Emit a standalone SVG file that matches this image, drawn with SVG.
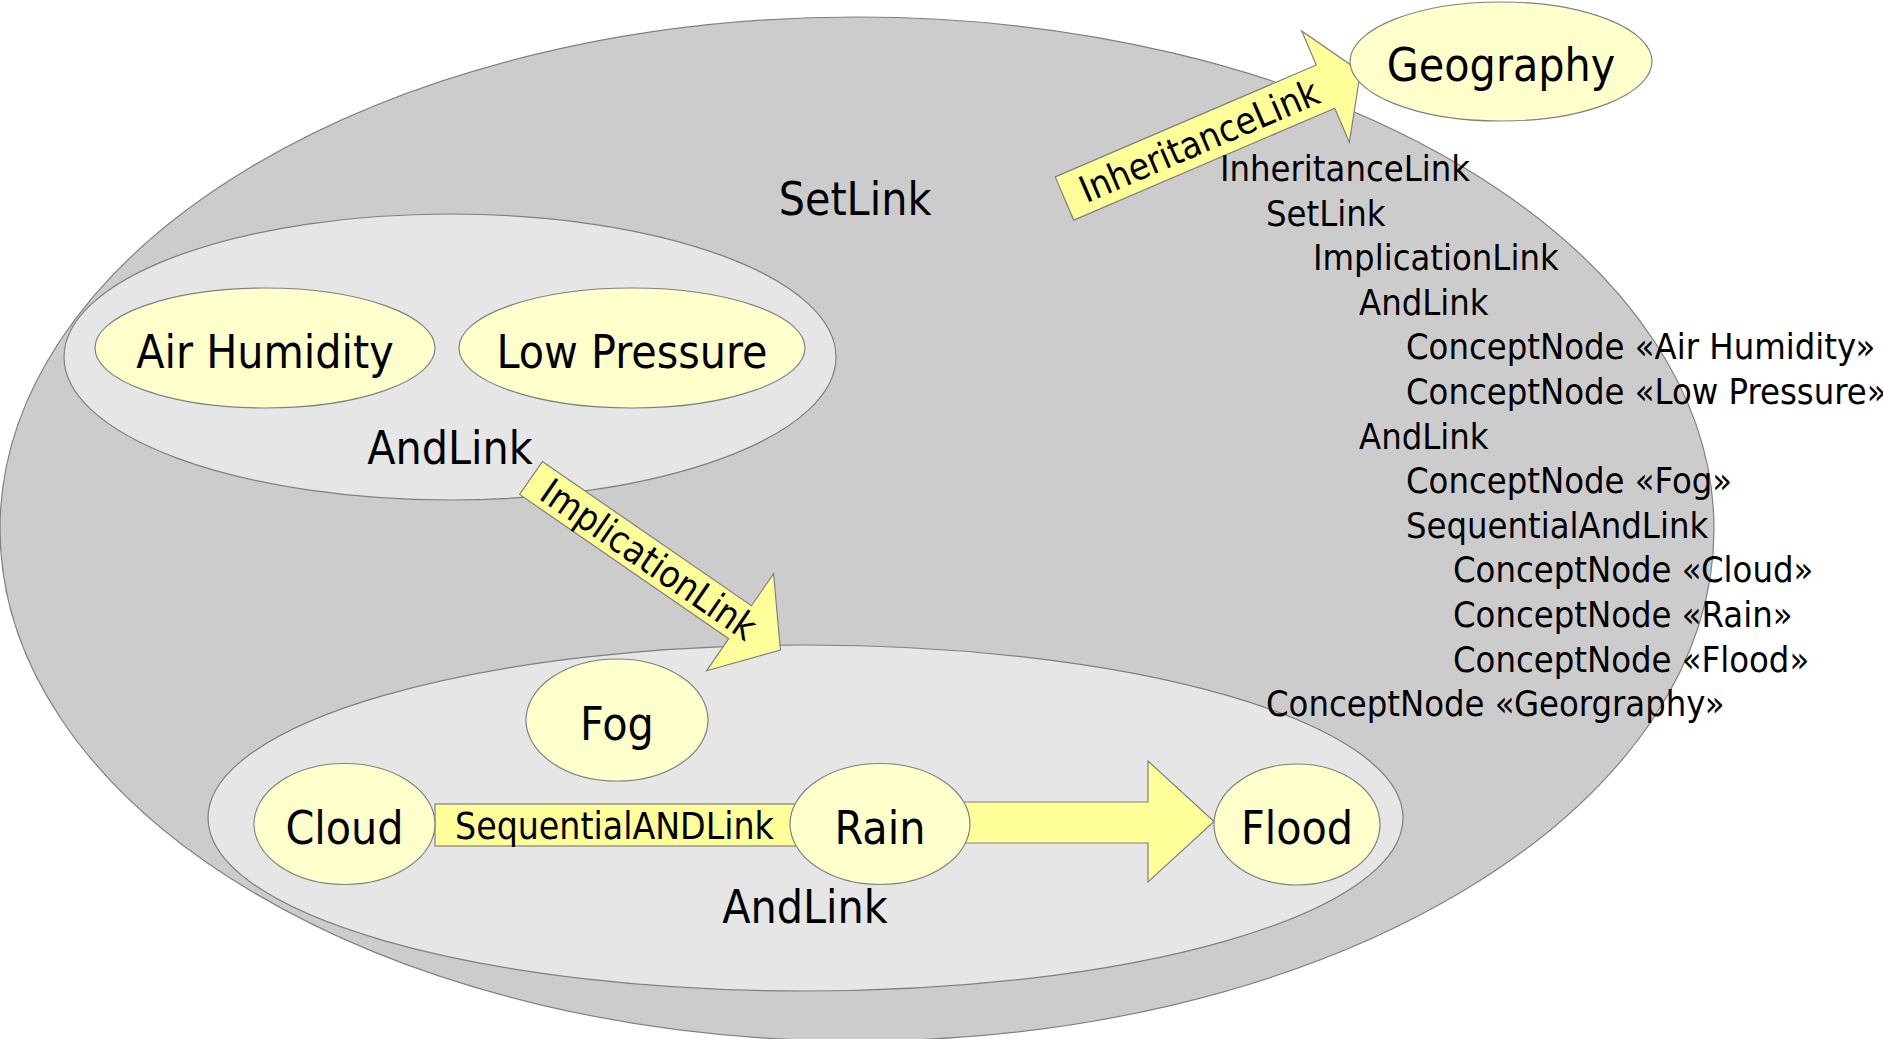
<svg xmlns="http://www.w3.org/2000/svg" width="1883" height="1039" viewBox="0 0 1883 1039">
  <style>
    text { font-family: "DejaVu Sans Condensed", "DejaVu Sans", sans-serif; font-stretch: condensed; fill: #000; }
    .set { fill: #cccccc; stroke: #808080; stroke-width: 1.2; }
    .and { fill: #e6e6e6; stroke: #808080; stroke-width: 1.2; }
    .node { fill: #ffffcc; stroke: #808080; stroke-width: 1.2; }
    .link { fill: #ffff99; stroke: #808080; stroke-width: 1.2; }
    .big { font-size: 46px; text-anchor: middle; }
    .lbl { font-size: 37px; }
    .tree { font-size: 36px; }
  </style>

  <!-- containers -->
  <g id="setlink">
    <ellipse class="set" cx="857" cy="529" rx="857" ry="512"/>
    <text class="big" x="855" y="215">SetLink</text>
  </g>
  <g id="andlink-premise">
    <ellipse class="and" cx="450" cy="357" rx="386" ry="143"/>
    <text class="big" x="450" y="464">AndLink</text>
  </g>
  <g id="andlink-conclusion">
    <ellipse class="and" cx="805.5" cy="818" rx="597.5" ry="173"/>
    <text class="big" x="805" y="923">AndLink</text>
  </g>

  <!-- connectors -->
  <g id="connectors">
    <g id="implication-link" transform="translate(531 478) rotate(34.6)">
      <polygon class="link" points="0,-20 254,-20 254,-59 303,0 254,59 254,20 0,20"/>
      <text class="lbl" x="17" y="13">ImplicationLink</text>
    </g>
    <g id="inheritance-link" transform="translate(1064.5 198.5) rotate(-23.2)">
      <polygon class="link" points="0,-23.5 284,-23.5 284,-60.5 322,0 284,60.5 284,23.5 0,23.5"/>
      <text class="lbl" x="18" y="13">InheritanceLink</text>
    </g>
    <g id="sequential-and-link">
      <rect class="link" x="435" y="804" width="400" height="42"/>
      <text class="lbl" x="455" y="839">SequentialANDLink</text>
    </g>
    <polygon id="rain-flood" class="link" points="880,802 1148,802 1148,761 1214,821.5 1148,882 1148,843 880,843"/>
  </g>

  <!-- concept nodes -->
  <g id="air-humidity">
    <ellipse class="node" cx="265" cy="348" rx="170" ry="60"/>
    <text class="big" x="265" y="368">Air Humidity</text>
  </g>
  <g id="low-pressure">
    <ellipse class="node" cx="632" cy="348" rx="173" ry="60"/>
    <text class="big" x="632" y="368">Low Pressure</text>
  </g>
  <g id="fog">
    <ellipse class="node" cx="617" cy="720" rx="91" ry="61"/>
    <text class="big" x="617" y="740">Fog</text>
  </g>
  <g id="cloud">
    <ellipse class="node" cx="344.5" cy="824" rx="90.5" ry="60.5"/>
    <text class="big" x="344.5" y="844">Cloud</text>
  </g>
  <g id="rain">
    <ellipse class="node" cx="880" cy="824" rx="90" ry="60.5"/>
    <text class="big" x="880" y="844">Rain</text>
  </g>
  <g id="flood">
    <ellipse class="node" cx="1297" cy="824.5" rx="83" ry="60.5"/>
    <text class="big" x="1297" y="844">Flood</text>
  </g>
  <g id="geography">
    <ellipse class="node" cx="1501" cy="61.5" rx="151" ry="59.5"/>
    <text class="big" x="1501" y="81">Geography</text>
  </g>

  <!-- textual form of the same structure -->
  <g id="atomese">
    <text class="tree" x="1220" y="181">InheritanceLink</text>
    <text class="tree" x="1266" y="225.6">SetLink</text>
    <text class="tree" x="1313" y="270.2">ImplicationLink</text>
    <text class="tree" x="1359" y="314.8">AndLink</text>
    <text class="tree" x="1406" y="359.4">ConceptNode «Air Humidity»</text>
    <text class="tree" x="1406" y="404">ConceptNode «Low Pressure»</text>
    <text class="tree" x="1359" y="448.6">AndLink</text>
    <text class="tree" x="1406" y="493.2">ConceptNode «Fog»</text>
    <text class="tree" x="1406" y="537.8">SequentialAndLink</text>
    <text class="tree" x="1453" y="582.4">ConceptNode «Cloud»</text>
    <text class="tree" x="1453" y="627">ConceptNode «Rain»</text>
    <text class="tree" x="1453" y="671.6">ConceptNode «Flood»</text>
    <text class="tree" x="1266" y="716.2">ConceptNode «Georgraphy»</text>
  </g>
</svg>
